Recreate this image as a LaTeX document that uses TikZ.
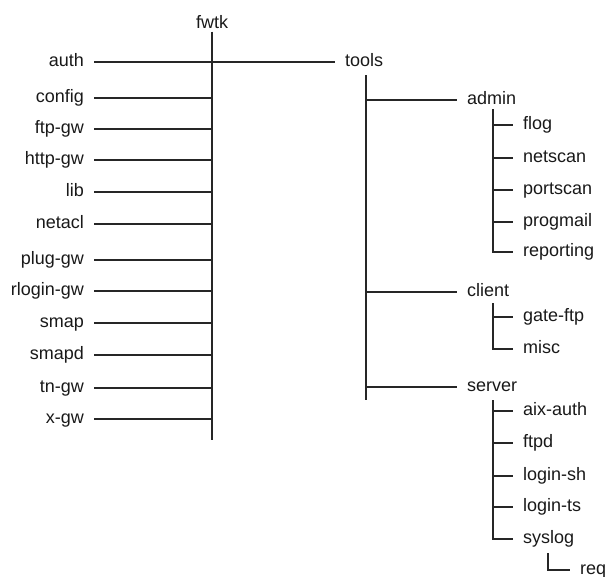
\documentclass[tikz,border=0pt]{standalone}
\usepackage{fontspec}
\setmainfont{Liberation Sans}
\usetikzlibrary{positioning}
\tikzstyle{dir} = [inner xsep=10pt, inner ysep=0pt, text height=1em, text depth=0.2em, font=\fontsize{18}{21}\selectfont, text=black!90]
\tikzstyle{lefty} = [dir, anchor=east]
\tikzstyle{righty} = [dir, anchor=west]
\tikzstyle{branch} = [line width=1.3pt, draw=black!85]

\begin{document}
\begin{tikzpicture}[x=1pt, y=-1pt]
\useasboundingbox (0,0) rectangle (609,576);

% root
\node (fwtk) [dir, inner ysep=1.5pt] at (212,24) {fwtk};
\coordinate (fwtk-end) at (212,440);

% left column
\node (auth) [lefty] at (94,62) {auth};
\node (config) [lefty] at (94,98) {config};
\node (ftpgw) [lefty] at (94,129) {ftp-gw};
\node (httpgw) [lefty] at (94,160) {http-gw};
\node (lib) [lefty] at (94,192) {lib};
\node (netacl) [lefty] at (94,224) {netacl};
\node (pluggw) [lefty] at (94,260) {plug-gw};
\node (rlogingw) [lefty] at (94,291) {rlogin-gw};
\node (smap) [lefty] at (94,323) {smap};
\node (smapd) [lefty] at (94,355) {smapd};
\node (tngw) [lefty] at (94,388) {tn-gw};
\node (xgw) [lefty] at (94,419) {x-gw};

% tools
\node (tools) [righty] at (335,62) {tools};
\coordinate (tools-top) at (366,75);
\coordinate (tools-end) at (366,400);
\node (admin) [righty] at (457,100) {admin};
\node (client) [righty] at (457,292) {client};
\node (server) [righty] at (457,387) {server};

% admin
\coordinate (admin-top) at (493,109);
\node (flog) [righty] at (513,125) {flog};
\node (netscan) [righty] at (513,158) {netscan};
\node (portscan) [righty] at (513,190) {portscan};
\node (progmail) [righty] at (513,222) {progmail};
\node (reporting) [righty] at (513,252) {reporting};

% client
\coordinate (client-top) at (493,303);
\node (gateftp) [righty] at (513,317) {gate-ftp};
\node (misc) [righty] at (513,349) {misc};

% server
\coordinate (server-top) at (493,400);
\node (aixauth) [righty] at (513,411) {aix-auth};
\node (ftpd) [righty] at (513,443) {ftpd};
\node (loginsh) [righty] at (513,476) {login-sh};
\node (logints) [righty] at (513,507) {login-ts};
\node (syslog) [righty] at (513,539) {syslog};
\coordinate (syslog-top) at (548,553);
\node (req) [righty] at (570,570) {req};

% lines
\draw [branch] (fwtk.south) -- (fwtk-end);
\draw [branch] (auth.east) -- (tools.west);
\draw [branch] (config.east) -- (config.east -| fwtk-end);
\draw [branch] (ftpgw.east) -- (ftpgw.east -| fwtk-end);
\draw [branch] (httpgw.east) -- (httpgw.east -| fwtk-end);
\draw [branch] (lib.east) -- (lib.east -| fwtk-end);
\draw [branch] (netacl.east) -- (netacl.east -| fwtk-end);
\draw [branch] (pluggw.east) -- (pluggw.east -| fwtk-end);
\draw [branch] (rlogingw.east) -- (rlogingw.east -| fwtk-end);
\draw [branch] (smap.east) -- (smap.east -| fwtk-end);
\draw [branch] (smapd.east) -- (smapd.east -| fwtk-end);
\draw [branch] (tngw.east) -- (tngw.east -| fwtk-end);
\draw [branch] (xgw.east) -- (xgw.east -| fwtk-end);

\draw [branch] (tools-top) -- (tools-end);
\draw [branch] (admin.west -| tools-top) -- (admin.west);
\draw [branch] (client.west -| tools-top) -- (client.west);
\draw [branch] (server.west -| tools-top) -- (server.west);

\draw [branch] (flog.west -| admin-top) -- (flog.west);
\draw [branch] (netscan.west -| admin-top) -- (netscan.west);
\draw [branch] (portscan.west -| admin-top) -- (portscan.west);
\draw [branch] (progmail.west -| admin-top) -- (progmail.west);
\draw [branch] (admin-top) |- (reporting.west);

\draw [branch] (gateftp.west -| client-top) -- (gateftp.west);
\draw [branch] (client-top) |- (misc.west);

\draw [branch] (aixauth.west -| server-top) -- (aixauth.west);
\draw [branch] (ftpd.west -| server-top) -- (ftpd.west);
\draw [branch] (loginsh.west -| server-top) -- (loginsh.west);
\draw [branch] (logints.west -| server-top) -- (logints.west);
\draw [branch] (server-top) |- (syslog.west);

\draw [branch] (syslog-top) |- (req.west);

\end{tikzpicture}
\end{document}
